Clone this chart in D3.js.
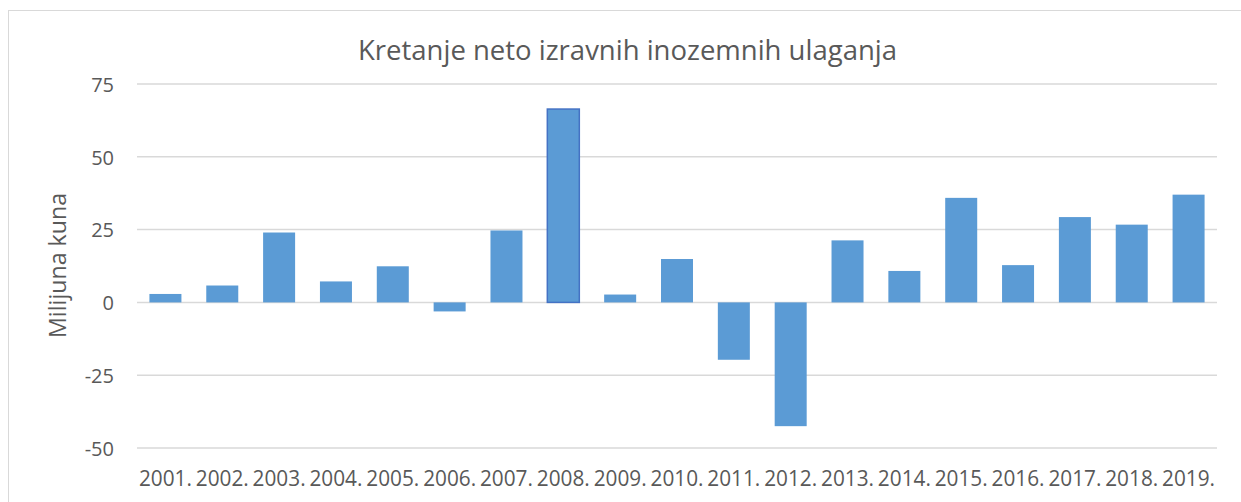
<!DOCTYPE html>
<html>
<head>
<meta charset="utf-8">
<script src="https://cdn.jsdelivr.net/npm/d3@7"></script>
<style>
  html, body { margin: 0; padding: 0; background: #fff; }
  svg { display: block; }
  text { font-family: "Open Sans", "Noto Sans", sans-serif; fill: #595959; }
</style>
</head>
<body>
<svg id="chart" width="1241" height="502"></svg>
<script>
const years = ["2001.","2002.","2003.","2004.","2005.","2006.","2007.","2008.","2009.","2010.",
               "2011.","2012.","2013.","2014.","2015.","2016.","2017.","2018.","2019."];
const values = [2.9, 5.8, 24.0, 7.2, 12.4, -3.1, 24.7, 66.4, 2.7, 14.9,
                -19.7, -42.5, 21.3, 10.8, 35.9, 12.8, 29.3, 26.7, 37.0];
const yTicks = [-50, -25, 0, 25, 50, 75];
const titleText = "Kretanje neto izravnih inozemnih ulaganja";
const yTitleText = "Milijuna kuna";
const highlighted = ["2008."];

const svg = d3.select("#chart");
const W = 1241, H = 502;
const plot = { left: 137, right: 1217, top: 84, bottom: 448 };

// outer chart border
svg.append("rect")
  .attr("x", 8.5).attr("y", 10.5)
  .attr("width", W).attr("height", H)
  .attr("fill", "#fff")
  .attr("stroke", "#d9d9d9").attr("stroke-width", 1);

const x = d3.scaleBand()
  .domain(years)
  .range([plot.left, plot.right])
  .paddingInner(0.437)
  .paddingOuter(0.2185);

const y = d3.scaleLinear()
  .domain([-50, 75])
  .range([plot.bottom, plot.top]);

// gridlines
svg.append("g")
  .selectAll("line")
  .data(yTicks)
  .join("line")
  .attr("x1", plot.left).attr("x2", plot.right)
  .attr("y1", d => y(d)).attr("y2", d => y(d))
  .attr("stroke", "#d9d9d9").attr("stroke-width", 1.5);

// y tick labels via axis
const yAxis = svg.append("g")
  .attr("transform", `translate(${plot.left - 23},0)`)
  .call(d3.axisLeft(y).tickValues(yTicks).tickSize(0).tickPadding(0).tickFormat(d => String(d)));
yAxis.select(".domain").remove();
yAxis.selectAll("text")
  .attr("font-size", 20)
  .attr("font-family", "'Open Sans', sans-serif")
  .attr("fill", "#595959")
  .attr("dy", "0.36em");

// bars
svg.append("g")
  .selectAll("rect")
  .data(years.map((c, i) => ({ c, v: values[i] })))
  .join("rect")
  .attr("x", d => x(d.c))
  .attr("width", x.bandwidth())
  .attr("y", d => y(Math.max(0, d.v)))
  .attr("height", d => Math.abs(y(d.v) - y(0)))
  .attr("fill", "#5B9BD5")
  .attr("stroke", d => highlighted.includes(d.c) ? "#4472C4" : "none")
  .attr("stroke-width", 1.5);

// x axis labels
const xAxis = svg.append("g")
  .attr("transform", `translate(0,${plot.bottom})`)
  .call(d3.axisBottom(x).tickSize(0).tickPadding(0));
xAxis.select(".domain").remove();
xAxis.selectAll("text")
  .attr("font-size", 22)
  .attr("font-family", "'Open Sans', sans-serif")
  .attr("fill", "#595959")
  .attr("dy", 0)
  .attr("y", 38)
  .attr("textLength", 53)
  .attr("lengthAdjust", "spacingAndGlyphs");

// title
svg.append("text")
  .attr("x", 627.5).attr("y", 60)
  .attr("text-anchor", "middle")
  .attr("font-size", 28)
  .attr("textLength", 539)
  .attr("lengthAdjust", "spacingAndGlyphs")
  .text(titleText);

// y axis title
svg.append("text")
  .attr("transform", `translate(66,265.5) rotate(-90)`)
  .attr("text-anchor", "middle")
  .attr("font-size", 23)
  .attr("textLength", 145)
  .attr("lengthAdjust", "spacingAndGlyphs")
  .text(yTitleText);
</script>
</body>
</html>
